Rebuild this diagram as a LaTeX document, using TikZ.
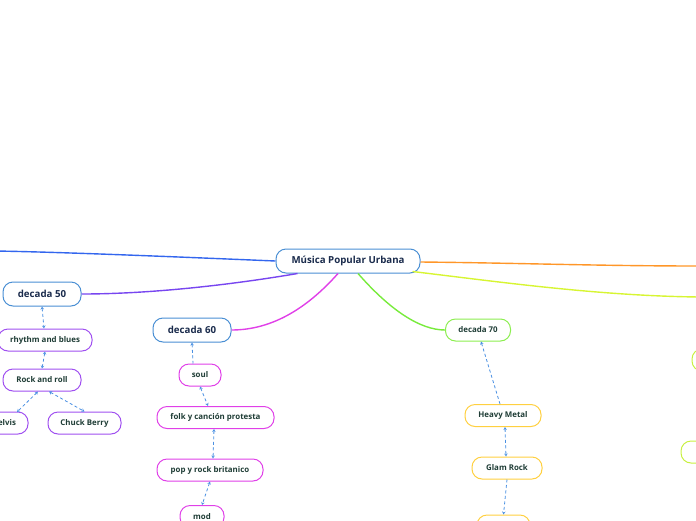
\documentclass[tikz,border=0pt]{standalone}
\usepackage{fontspec}
\setmainfont{Open Sans}
\usetikzlibrary{arrows.meta}
\definecolor{azul}{HTML}{4A8FD4}
\definecolor{lila}{HTML}{A050F0}
\definecolor{rosa}{HTML}{E040E8}
\definecolor{verde}{HTML}{8CEE50}
\definecolor{lima}{HTML}{C8F040}
\definecolor{oro}{HTML}{FFD040}
\definecolor{tinta}{HTML}{1A2B4C}
\definecolor{hoja}{HTML}{1F3D36}
\definecolor{flecha}{HTML}{4A90E2}

\begin{document}
\begin{tikzpicture}[x=1pt,y=-1pt,
    tema/.style={draw=azul,line width=1pt,fill=white,rounded corners=10pt,
      minimum height=24pt,inner xsep=8pt,text=tinta,font=\bfseries\fontsize{9.7}{11}\selectfont},
    sub/.style={draw=#1,line width=1pt,fill=white,rounded corners=10pt,
      minimum height=22pt,inner xsep=6pt,text=hoja,font=\bfseries\fontsize{7.9}{9}\selectfont},
    enlace/.style={flecha,line width=0.8pt,dash pattern=on 3pt off 2.5pt},
    punta/.style={enlace,{Stealth[open,length=3pt,width=3.5pt]}-{Stealth[open,length=3pt,width=3.5pt]}}]
  \useasboundingbox (0,0) rectangle (696,520);
  \clip (0,0) rectangle (696,520);

  % nodos principales
  \node[tema,minimum width=144pt] (raiz) at (348,261) {Música Popular Urbana};
  \node[tema,minimum width=78pt] (d50) at (42,294) {decada 50};
  \node[tema,minimum width=78pt] (d60) at (192,330) {decada 60};
  \node[sub=verde,minimum width=65pt] (d70) at (478,330) {decada 70};
  \coordinate (izq) at (-5,251);
  \coordinate (der) at (700,266);
  \coordinate (der2) at (700,297);
  \node[sub=lima,minimum width=60pt] (v1) at (722,360) {};
  \node[sub=lima,minimum width=60pt] (v2) at (711,452) {};

  % decada 50
  \node[sub=lila,minimum width=94pt] (c1) at (45,340) {rhythm and blues};
  \node[sub=lila,minimum width=78pt] (c2) at (42,380) {Rock and roll};
  \node[sub=lila,minimum width=42pt] (c3) at (7,423) {elvis};
  \node[sub=lila,minimum width=73pt] (c4) at (84.5,423) {Chuck Berry};

  % decada 60
  \node[sub=rosa,minimum width=42pt] (s1) at (200,375) {soul};
  \node[sub=rosa,minimum width=117pt] (s2) at (215.5,417.5) {folk y canción protesta};
  \node[sub=rosa,minimum width=106pt] (s3) at (210,470) {pop y rock britanico};
  \node[sub=rosa,minimum width=44pt] (s4) at (202,516.5) {mod};

  % decada 70
  \node[sub=oro,minimum width=76pt] (h1) at (503,415.5) {Heavy Metal};
  \node[sub=oro,minimum width=70pt] (h2) at (507,468) {Glam Rock};
  \node[sub=oro,minimum width=53pt] (h3) at (503.5,526) {};

  % ramas
  \draw[line width=1.4pt,color={rgb,255:red,51;green,102;blue,238}] (raiz.west) .. controls (180,257) and (60,252) .. (izq);
  \draw[line width=1.4pt,color={rgb,255:red,120;green,70;blue,240}] ([xshift=22pt]raiz.south west) .. controls (230,285) and (150,294) .. (d50.east);
  \draw[line width=1.4pt,color=rosa] ([xshift=-10pt]raiz.south) .. controls (310,305) and (275,330) .. (d60.east);
  \draw[line width=1.4pt,color={rgb,255:red,120;green,235;blue,60}] ([xshift=10pt]raiz.south) .. controls (390,310) and (420,330) .. (d70.west);
  \draw[line width=1.4pt,color={rgb,255:red,255;green,150;blue,40}] ([yshift=-1pt]raiz.east) .. controls (520,263) and (600,266) .. (der);
  \draw[line width=1.4pt,color={rgb,255:red,215;green,245;blue,50}] ([xshift=-8pt,yshift=2pt]raiz.south east) .. controls (500,282) and (600,296) .. (der2);

  % enlaces
  \draw[punta] (d50.south) -- (c1.north -| 44,0);
  \draw[punta] (c1.south) -- (c2.north);
  \draw[punta] ([xshift=-4pt]c2.south) -- (17,412);
  \draw[punta] ([xshift=7pt]c2.south) -- (c4.north);
  \draw[enlace,{Stealth[open,length=3pt,width=3.5pt]}-] (d60.south) -- (s1.north -| 193,0);
  \draw[punta] (s1.south) -- (s2.north -| 208,0);
  \draw[punta] (s2.south -| 214,0) -- (s3.north -| 213,0);
  \draw[punta] (s3.south) -- (s4.north);
  \draw[enlace,{Stealth[open,length=3pt,width=3.5pt]}-] (d70.south -| 481,0) -- (h1.north -| 500,0);
  \draw[punta] ([xshift=2pt]h1.south) -- (h2.north -| 506,0);
  \draw[enlace,-{Stealth[open,length=3pt,width=3.5pt]}] (h2.south) -- (h3.north);
\end{tikzpicture}
\end{document}
